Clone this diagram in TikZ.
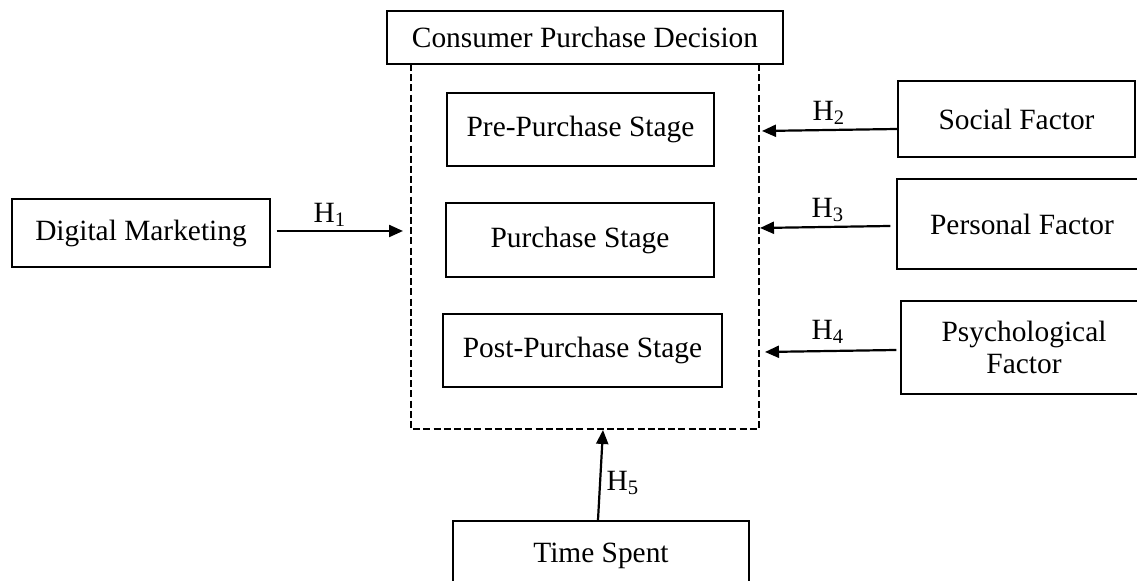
\documentclass[tikz,border=0pt]{standalone}
\usepackage{fontspec}
\setmainfont{Liberation Serif}
\usetikzlibrary{arrows.meta}
\begin{document}
\begin{tikzpicture}[x=0.5pt,y=-0.5pt,
 txt/.style={font=\fontsize{14.7}{16}\selectfont},
 box/.style={draw, line width=0.7pt, inner sep=0pt, align=center, txt},
 arr/.style={line width=1.1pt, -{Triangle[length=7pt,width=6pt]}},
 dbox/.style={line width=1.2pt, dash pattern=on 3.5pt off 1.6pt},
 hlab/.style={txt, inner sep=0pt}]
\useasboundingbox (0,0) rectangle (1137,581);
% boxes
\node[box, minimum width=198pt, minimum height=26.5pt] (cpd) at (585,37.5) {Consumer Purchase Decision};
\node[box, minimum width=133.5pt, minimum height=36.5pt] (pre) at (580.5,129.5) {Pre-Purchase Stage};
\node[box, minimum width=134pt, minimum height=37pt] (pur) at (580,240) {Purchase Stage};
\node[box, minimum width=139.5pt, minimum height=36.5pt] (post) at (582.5,350.5) {Post-Purchase Stage};
\node[box, minimum width=129pt, minimum height=34pt] (dm) at (141,233) {Digital Marketing};
\node[box, minimum width=118.5pt, minimum height=38pt] (soc) at (1016.5,119) {Social Factor};
\node[box, minimum width=125pt, minimum height=45pt] (per) at (1022,224) {Personal Factor};
\node[box, minimum width=123pt, minimum height=46.5pt] (psy) at (1024,347.5) {Psychological\\Factor};
\node[box, minimum width=148pt, minimum height=35pt] (ts) at (601,556) {Time Spent};
% dashed container
\coordinate (dtl) at (411,64);
\coordinate (dbl) at (411,429);
\coordinate (dbr) at (759,429);
\coordinate (dtr) at (759,64);
\draw[dbox] (dtl) -- (dbl) -- (dbr) -- (dtr);
% arrow endpoints
\coordinate (e1) at (403,231);
\coordinate (e2) at (762,131);
\coordinate (e3) at (760,228);
\coordinate (e4) at (765,352);
\coordinate (e5) at (603,430);
\coordinate (s5) at (598,520);
% connectors
\draw[arr] ([xshift=3pt]dm.east |- e1) -- (e1);
\draw[arr] ([yshift=-5pt]soc.west) -- (e2);
\draw[arr] ([xshift=-3pt,yshift=-1pt]per.west) -- (e3);
\draw[arr] ([xshift=-2pt,yshift=-1.25pt]psy.west) -- (e4);
\draw[arr] (s5) -- (e5);
% labels
\node[hlab] (h1) at (330,215) {H\textsubscript{1}};
\node[hlab] (h2) at (829,113) {H\textsubscript{2}};
\node[hlab] (h3) at (828,210) {H\textsubscript{3}};
\node[hlab] (h4) at (828,332) {H\textsubscript{4}};
\node[hlab] (h5) at (623,483) {H\textsubscript{5}};
\end{tikzpicture}
\end{document}
